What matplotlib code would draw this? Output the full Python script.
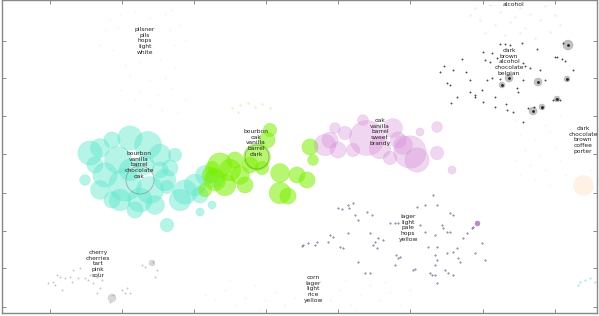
import matplotlib
matplotlib.use("Agg")
import matplotlib.pyplot as plt
import numpy as np

# embedding coordinates (x, y, weight) per cluster
cyan_pts = [(90, 153, 9), (100, 148, 7), (112, 140, 6), (130, 138, 9), (148, 145, 10),
            (160, 155, 8), (118, 160, 10), (105, 175, 9), (125, 185, 12), (150, 190, 10),
            (140, 200, 9), (120, 200, 8), (165, 180, 8), (170, 168, 6), (100, 190, 7),
            (155, 205, 7), (135, 210, 6), (185, 192, 9), (195, 185, 8), (205, 175, 7),
            (180, 200, 8), (200, 195, 6), (215, 178, 7), (167, 187, 5), (200, 212, 3),
            (212, 205, 3), (145, 165, 7), (160, 170, 6), (130, 170, 8), (85, 180, 4),
            (175, 155, 5), (112, 200, 6), (167, 225, 5), (95, 165, 6)]
green_pts = [(267, 140, 6), (257, 157, 10), (220, 165, 9), (230, 170, 8), (215, 180, 8),
             (240, 175, 7), (250, 165, 6), (210, 175, 6), (225, 185, 8), (245, 185, 6),
             (205, 190, 5), (280, 173, 7), (297, 175, 6), (307, 180, 6), (280, 193, 8),
             (288, 196, 6), (270, 130, 5), (310, 147, 6), (313, 160, 4), (235, 160, 6),
             (262, 168, 5), (212, 168, 5)]
green_tiny = [(232, 108), (240, 105), (248, 103), (255, 107), (262, 104), (238, 112), (270, 108)]
purple_pts = [(325, 145, 8), (338, 150, 6), (345, 133, 5), (335, 128, 4), (363, 120, 4),
              (367, 138, 13), (380, 148, 8), (393, 128, 7), (410, 152, 12), (417, 160, 9),
              (403, 145, 7), (353, 150, 5), (390, 158, 5), (437, 153, 5), (437, 127, 4),
              (452, 170, 3), (420, 132, 3), (330, 140, 6), (398, 140, 6)]
dark_dots = [(500, 44), (505, 44), (510, 45), (522, 43), (537, 49), (557, 57), (562, 59),
             (563, 43), (567, 79), (573, 70), (485, 60), (490, 62), (462, 59), (440, 72),
             (444, 66), (453, 70), (450, 85), (457, 97), (451, 103), (475, 97), (483, 102),
             (495, 107), (507, 110), (513, 112), (523, 122), (542, 108), (553, 100),
             (492, 78), (487, 80), (470, 80), (482, 90), (475, 95), (517, 88), (518, 92),
             (530, 68), (540, 70), (523, 80), (523, 63), (497, 58), (483, 52), (492, 53),
             (466, 72), (500, 79), (545, 80), (556, 99), (560, 100), (534, 107), (528, 108),
             (506, 104), (495, 97), (470, 92), (447, 83), (555, 57), (565, 61), (525, 66)]
dark_bubbles = [(568, 45, 5), (533, 111, 4), (542, 107, 3), (557, 99, 3), (567, 79, 3),
                (538, 82, 4), (509, 78, 4), (502, 85, 3)]
alcohol_pts = [(475, 8), (490, 5), (500, 12), (520, 8), (530, 14), (545, 6), (555, 15),
               (480, 20), (495, 25), (510, 22), (525, 28), (540, 20), (505, 35), (520, 33),
               (535, 38), (560, 25), (485, 33), (550, 32), (470, 15), (515, 17)]
pilsner_pts = [(110, 20), (120, 15), (135, 12), (150, 18), (165, 14), (172, 10), (105, 30),
               (118, 28), (170, 30), (180, 25), (100, 45), (112, 50), (175, 45), (185, 40),
               (125, 65), (140, 62), (160, 60), (175, 68), (130, 75), (150, 80), (165, 78),
               (120, 90), (140, 92), (158, 95), (172, 88), (150, 105), (162, 110), (178, 112),
               (135, 100), (185, 100)]
porter_pts = [(515, 120), (530, 118), (545, 125), (560, 115), (520, 135), (535, 140),
              (550, 132), (525, 150), (540, 155), (555, 148), (515, 160), (530, 165),
              (545, 170), (560, 160), (570, 130), (575, 150), (565, 175), (550, 185),
              (535, 180), (520, 175), (590, 170), (595, 195)]
porter_big = [(583, 185, 9)]
lager_pts = [(338, 208), (342, 209), (348, 205), (353, 203), (355, 215), (358, 220),
             (367, 212), (372, 215), (303, 245), (308, 243), (317, 242), (315, 245),
             (328, 242), (330, 235), (333, 237), (340, 247), (343, 248), (348, 233),
             (358, 262), (370, 233), (375, 242), (378, 238), (383, 240), (377, 248),
             (373, 245), (365, 273), (370, 273), (390, 223), (395, 223), (398, 223),
             (396, 255), (398, 258), (400, 257), (395, 265), (413, 270), (415, 269),
             (417, 207), (425, 205), (433, 195), (437, 205), (420, 225), (425, 232),
             (428, 247), (435, 235), (437, 247), (442, 225), (443, 228), (447, 232),
             (450, 232), (435, 255), (437, 260), (435, 265), (450, 213), (453, 215),
             (447, 253), (453, 252), (445, 270), (448, 273), (453, 275), (457, 248),
             (460, 262), (458, 258), (463, 238), (467, 233), (472, 228), (473, 227),
             (475, 253), (482, 243), (485, 260), (435, 275), (430, 273), (302, 246),
             (349, 208), (437, 283), (432, 275)]
lager_big = [(477, 223, 2.5)]
cherry_pts = [(48, 283), (53, 282), (55, 285), (57, 275), (60, 277), (62, 290), (65, 278),
              (70, 277), (72, 282), (73, 270), (80, 268), (78, 278), (85, 278), (88, 280),
              (90, 275), (97, 277), (98, 273), (100, 288), (97, 293), (110, 302), (113, 295),
              (122, 290), (127, 288), (130, 293), (125, 293), (153, 262), (157, 270),
              (155, 277), (145, 267), (142, 265), (93, 283), (102, 280)]
cherry_blobs = [(112, 298, 4), (152, 263, 3)]
corn_pts = [(205, 295), (215, 300), (225, 290), (235, 305), (245, 298), (255, 285),
            (265, 300), (275, 292), (285, 305), (295, 298), (330, 300), (340, 290),
            (350, 305), (360, 295), (370, 285), (380, 300), (390, 292), (400, 305),
            (410, 290), (230, 280), (260, 310), (345, 280), (385, 282), (355, 310), (320, 280)]
teal_pts = [(580, 282), (585, 280), (590, 278), (595, 282), (578, 285)]

centroids = [(140, 180, 14), (257, 157, 12)]

labels = ["pilsner\npils\nhops\nlight\nwhite",
          "bourbon\nvanilla\nbarrel\nchocolate\noak",
          "bourbon\noak\nvanilla\nbarrel\ndark",
          "oak\nvanilla\nbarrel\nsweet\nbrandy",
          "dark\nbrown\nalcohol\nchocolate\nbelgian",
          "alcohol",
          "dark\nchocolate\nbrown\ncoffee\nporter",
          "lager\nlight\npale\nhops\nyellow",
          "cherry\ncherries\ntart\npink\nsour",
          "corn\nlager\nlight\nrice\nyellow"]
label_pos = [(145, 41), (139, 165), (256, 143), (380, 132), (509, 62), (513, 4.5),
             (583, 140), (408, 228), (98, 264), (313, 289)]

fig = plt.figure(figsize=(5.99, 3.16), dpi=100)
ax = fig.add_axes([0.0033, 0.0095, 0.9934, 0.9905])


def s_of(r):
    # radius in pixels -> scatter area in points^2
    return (2 * np.asarray(r, dtype=float) * 0.72) ** 2


def bubbles(pts, color, alpha, scale=1.35):
    a = np.array(pts, dtype=float)
    ax.scatter(a[:, 0], a[:, 1], s=s_of(a[:, 2] * scale), c=color, alpha=alpha,
               edgecolors=color, linewidths=0.3, zorder=2)


def dots(pts, color, alpha, size=1.0, edge=None):
    a = np.array(pts, dtype=float)
    ax.scatter(a[:, 0], a[:, 1], s=s_of(size), c=color, alpha=alpha,
               edgecolors=edge if edge else color, linewidths=0.3, zorder=3)


dots(pilsner_pts, "#ececE6", 0.3, 1.1)
dots(alcohol_pts, "#d4d4d4", 0.35, 0.9)
dots(porter_pts, "#f4eadc", 0.3, 1.1)
bubbles(porter_big, "#ffd9b3", 0.35, 1.1)
dots(corn_pts, "#e8e8e8", 0.3, 1.1)
bubbles(cyan_pts, "#5ee8cc", 0.45)
bubbles(green_pts, "#7cf000", 0.55)
dots(green_tiny, "#dde8a0", 0.6, 0.9)
bubbles(purple_pts, "#d48ad8", 0.35)
bubbles(dark_bubbles, "#777777", 0.45, 1.0)
dots(dark_dots, "#222222", 0.75, 0.7)
db = np.array(dark_bubbles, dtype=float)
ax.scatter(db[:, 0], db[:, 1], s=s_of(0.7), c="#222222", zorder=3)
dots(lager_pts, "#a060c8", 0.7, 0.75, edge="#404040")
bubbles(lager_big, "#9040c0", 0.6, 1.0)
dots(cherry_pts, "#999999", 0.5, 0.7)
bubbles(cherry_blobs, "#aaaaaa", 0.45, 1.0)
dots(teal_pts, "#70d8d8", 0.5, 0.9)

cen = np.array(centroids, dtype=float)
ax.scatter(cen[:, 0], cen[:, 1], s=s_of(cen[:, 2]), facecolors="none",
           edgecolors="#555555", linewidths=0.5, alpha=0.5, zorder=4)

for txt, (x, y) in zip(labels, label_pos):
    ax.text(x, y, txt, ha="center", va="center", fontsize=4.3, color="#222222",
            linespacing=1.15, zorder=5)

ax.set_xlim(2, 597)
ax.set_ylim(313, 0)
ax.set_xticks([50, 122, 194, 266, 338, 410, 483, 555])
ax.set_yticks([41, 78, 116, 154, 193, 231, 268, 307])
ax.tick_params(direction="in", length=3, width=0.6, color="#777777",
               top=True, right=True, labelbottom=False, labelleft=False)
for sp in ax.spines.values():
    sp.set_color("#888888")
    sp.set_linewidth(1.0)

fig.savefig("out.png", dpi=100)
